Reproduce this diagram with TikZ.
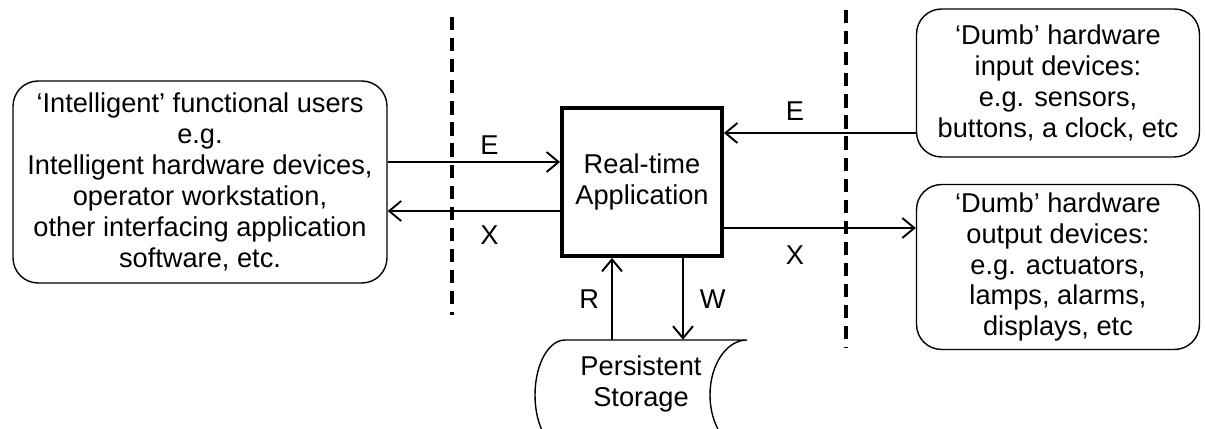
\documentclass[tikz,border=0pt]{standalone}
\usepackage{fontspec}
\setmainfont{Liberation Sans}
\usetikzlibrary{arrows.meta,positioning}

\begin{document}
\begin{tikzpicture}[
    x=0.02cm, y=-0.02cm,
    >={Straight Barb[length=2.4mm,width=4mm]},
    font=\fontsize{15.5}{17.6}\selectfont,
    party/.style={draw,rounded corners=0.5cm,line width=0.8pt,align=center,inner sep=0pt},
    app/.style={draw,line width=2.2pt,align=center,minimum width=3.2cm,minimum height=2.96cm},
    flow/.style={->,line width=1.1pt},
    border/.style={line width=2pt,dash pattern=on 7.5pt off 4.5pt},
    lbl/.style={inner sep=4pt}
]
\useasboundingbox (0,0) rectangle (1205,429);

\node[party,minimum width=7.48cm,minimum height=4.04cm] (users) at (200,182)
    {‘Intelligent’ functional users\\e.g.\\Intelligent hardware devices,\\operator workstation,\\other interfacing application\\software, etc.};
\node[app] (rta) at (642,182) {Real-time\\Application};
\node[party,minimum width=5.66cm,minimum height=2.96cm] (dumbin) at (1058,83)
    {‘Dumb’ hardware\\input devices:\\e.g. sensors,\\buttons, a clock, etc};
\node[party,minimum width=5.66cm,minimum height=3.3cm] (dumbout) at (1058,267)
    {‘Dumb’ hardware\\output devices:\\e.g. actuators,\\lamps, alarms,\\displays, etc};
\node[align=center,inner sep=0pt,minimum height=1.76cm] (store) at (641,384) {Persistent\\Storage};

% storage symbol, cut by the page edge
\begin{scope}
\clip (0,0) rectangle (1205,429);
\draw[line width=0.8pt] (565,340) -- (747,340)
    .. controls (726.6,340) and (710,364.6) .. (710,395)
    .. controls (710,425.4) and (726.6,450) .. (747,450) -- (565,450)
    .. controls (548.4,450) and (535,425.4) .. (535,395)
    .. controls (535,364.6) and (548.4,340) .. (565,340) -- cycle;
\end{scope}

% boundaries
\draw[border] (452,17) -- (452,315);
\draw[border] (846,10) -- (846,348);

% data movements
\draw[flow] ([yshift=4mm]users.east) -- node[lbl,above,pos=0.59] {E} ([yshift=4mm]rta.west);
\draw[flow] ([yshift=-5.8mm]rta.west) -- node[lbl,below=4pt,pos=0.41] {X} ([yshift=-5.8mm]users.east);
\coordinate (ein) at ([yshift=-1cm]dumbin.west);
\draw[flow] (ein) -- node[lbl,above=2.3pt,pos=0.63] {E} (ein -| rta.east);
\coordinate (xout) at ([yshift=-9.2mm]rta.east);
\draw[flow] (xout) -- node[lbl,below=5.7pt,pos=0.37] {X} (xout -| dumbout.west);
\coordinate (rd) at ([xshift=-6mm]rta.south);
\draw[flow] (rd |- store.north) -- node[lbl,left=2.8pt] {R} (rd);
\coordinate (wr) at ([xshift=8.2mm]rta.south);
\draw[flow] (wr) -- node[lbl,right=5pt] {W} (wr |- store.north);
\end{tikzpicture}
\end{document}
